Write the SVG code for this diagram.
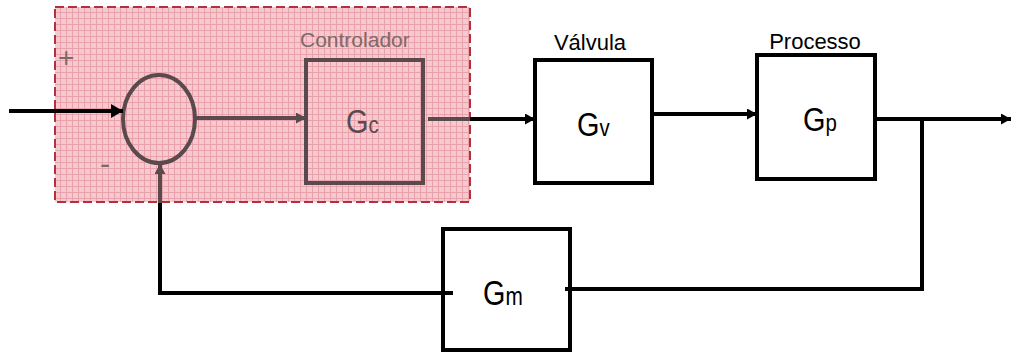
<svg xmlns="http://www.w3.org/2000/svg" width="1012" height="353" viewBox="0 0 1012 353">
<style>
text{font-family:"Liberation Sans",Arial,sans-serif}
.blk{fill:none;stroke:#000;stroke-width:4}
.gry{fill:none;stroke:#5a4a4d;stroke-width:4}
.box{fill:#fff;stroke:#000;stroke-width:4}
.lbl{font-size:22px;fill:#000}
.g{font-size:34px;fill:#000}
.sub{font-size:24px}
</style>
<defs>
<pattern id="grid" width="6" height="6" patternUnits="userSpaceOnUse">
<rect width="6" height="6" fill="#f6c9cf"/>
<path d="M0,0.5H6M0.5,0V6" stroke="#e9a1ab" stroke-width="1"/>
</pattern>
<marker id="ab" markerUnits="userSpaceOnUse" markerWidth="12" markerHeight="11" refX="10" refY="5.5" orient="auto"><path d="M0,0L10,5.5L0,11z" fill="#000"/></marker>
<marker id="abl" markerUnits="userSpaceOnUse" markerWidth="14" markerHeight="14" refX="12" refY="7" orient="auto"><path d="M0,0L12,7L0,14z" fill="#000"/></marker>
<marker id="ag" markerUnits="userSpaceOnUse" markerWidth="12" markerHeight="11" refX="10" refY="5.5" orient="auto"><path d="M0,0L10,5.5L0,11z" fill="#5a4a4d"/></marker>
</defs>
<g id="controlador">
<rect x="55" y="7" width="415" height="195" fill="url(#grid)" stroke="#b3303f" stroke-width="2" stroke-dasharray="9,4"/>
<text x="300" y="47" font-size="21" fill="#7b6a6c">Controlador</text>
<text x="58" y="67" font-size="28" fill="#7b6a6c">+</text>
<text x="100" y="174" font-size="30" fill="#7b6a6c">-</text>
</g>
<g id="somador">
<ellipse cx="159" cy="119" rx="36" ry="44" class="gry"/>
</g>
<g id="gc">
<rect x="306" y="60" width="117" height="123" fill="none" stroke="#5a4a4d" stroke-width="4"/>
<text transform="translate(346,133) scale(0.85,1)" class="g" style="fill:#5a4a4d">G<tspan class="sub">c</tspan></text>
</g>
<g id="gv">
<rect x="535" y="60" width="117" height="123" class="box"/>
<text x="590" y="50" class="lbl" text-anchor="middle">Válvula</text>
<text transform="translate(577,136) scale(0.85,1)" class="g">G<tspan class="sub">v</tspan></text>
</g>
<g id="gp">
<rect x="757" y="55" width="118" height="124" class="box"/>
<text x="815" y="49" class="lbl" text-anchor="middle">Processo</text>
<text transform="translate(803,131) scale(0.85,1)" class="g">G<tspan class="sub">p</tspan></text>
</g>
<g id="gm">
<rect x="443" y="229" width="127" height="121" class="box" stroke-width="4.5"/>
<text transform="translate(483,305) scale(0.8,1)" font-size="36" fill="#000">G<tspan font-size="26">m</tspan></text>
</g>
<g id="connectors">
<path d="M9,111H123" class="blk" marker-end="url(#abl)"/>
<path d="M195,118H306" class="gry" marker-end="url(#ag)"/>
<path d="M428,119H470" class="gry"/>
<path d="M470,119H535" class="blk" marker-end="url(#ab)"/>
<path d="M652,114H757" class="blk" marker-end="url(#ab)"/>
<path d="M875,119H1011" class="blk" marker-end="url(#ab)"/>
<path d="M922,119V289H565" class="blk"/>
<path d="M453,293H160V202" class="blk"/>
<path d="M160,203V164" class="gry" marker-end="url(#ag)"/>
</g>
</svg>
